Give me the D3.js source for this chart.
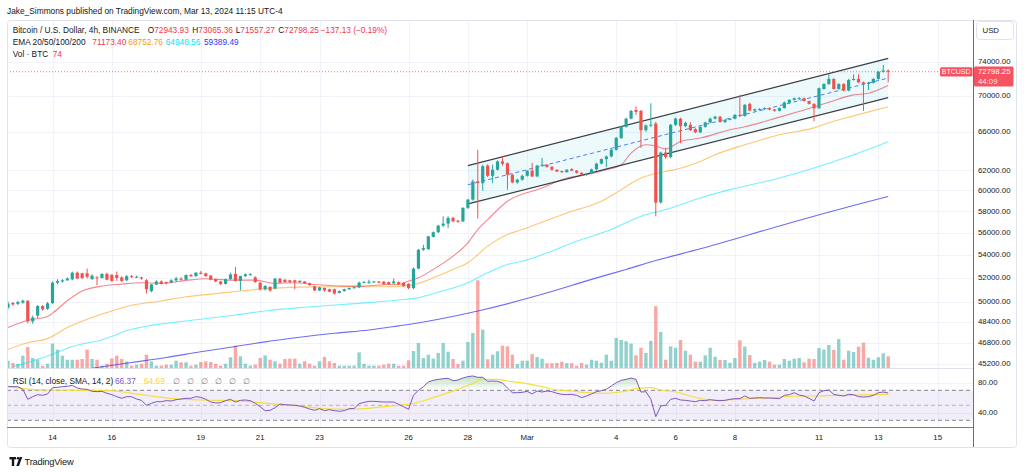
<!DOCTYPE html>
<html><head><meta charset="utf-8">
<script src="https://cdn.jsdelivr.net/npm/d3@7/dist/d3.min.js"></script>
<style>
html,body{margin:0;padding:0;background:#fff;}
svg{display:block;font-family:"Liberation Sans",Arial,sans-serif;}
</style></head><body>
<svg id="c" width="1024" height="472"></svg>
<script>
// ---------------- DATA ----------------
const open = [49540,49920,49850,49950,50100,48450,48900,49670,49450,49900,51600,51700,51800,51880,52450,52400,52400,51900,52050,52000,
52350,52250,52250,52050,51800,52150,52080,52050,51800,50900,51450,51700,51650,51600,51800,51950,51850,52250,52150,52450,
52400,52200,51900,51700,51500,51900,52350,51750,52150,52250,52050,51600,51050,51250,51100,51940,51850,51800,51800,51650,
51700,51550,51300,50950,51150,51050,51050,50750,50900,51050,51150,51200,51600,51620,51680,51680,51680,51650,51550,51650,
51600,51500,51150,52800,54450,54500,55600,56030,56640,56820,57350,57100,57030,58300,59090,60870,60700,62460,61430,62045,
62890,62700,61540,60770,61040,61430,61940,61370,62460,62550,62350,62040,61900,61800,62100,61950,61740,61540,61640,62080,
62660,63130,63400,64100,65330,66540,67430,68400,68300,66170,66700,66900,58830,63810,63340,66760,67430,66620,66760,66300,
65950,66540,67010,67430,67650,67060,67300,67430,67850,67740,69080,68330,68450,68480,68600,68450,68300,68600,69200,69530,
69600,69720,69400,69080,68600,70780,71350,71940,70780,71360,70600,71830,71940,71550,71360,71500,71950,72800,72943.93];
const high = [50050,50000,50100,50200,50150,48900,49750,49750,50000,51700,51900,51900,52050,52550,52550,52450,52800,52300,52150,52400,
52450,52350,52550,52150,52250,52250,52200,52100,51900,51500,51800,51800,51700,51900,52100,52050,52300,52350,52500,52600,
52450,52250,51950,51750,51950,52450,52950,52200,52400,52400,52150,51650,51400,51300,52000,52000,51900,51850,51850,51800,
51750,51600,51350,51250,51200,51100,51100,50950,51100,51200,51300,51700,51750,51850,51750,51750,51750,51700,51950,51700,
51650,51550,52900,54500,54900,55700,56100,56700,57500,57510,57450,57150,58350,59150,61050,64100,62550,62600,62550,63000,
63400,62800,61600,61150,61550,62000,62750,62550,63250,62600,62400,62100,61950,62100,62200,62000,61800,61700,62150,62750,
63200,63500,64200,65450,66650,67550,68400,68800,68400,66800,69150,67100,63900,64300,66850,67550,67550,67100,67050,66400,
66600,67100,67550,67750,67750,67400,67500,67950,70100,69050,69200,68550,68600,68700,68650,68500,68700,69350,69600,69800,
69850,69800,69450,69150,70950,71450,72500,72050,71450,71450,71950,72500,72500,71650,71600,72050,72900,73600,73065.36];
const low = [49400,49700,49750,49850,48300,48250,48700,49300,49350,49850,51450,51600,51750,51800,51900,51900,51950,51850,51400,51950,
51800,51700,51750,51650,51750,52000,52000,51850,50700,50800,51400,51450,51450,51550,51650,51800,51800,52100,52100,52300,
52100,51800,51650,51400,51450,51850,51700,50950,52100,52200,51600,50950,50950,50850,51050,51550,51600,51600,51050,51600,
51500,51350,50900,50900,50850,50800,50600,50700,50850,51000,51100,51150,51550,51500,51600,51550,51400,51400,51500,51400,
51250,51050,51050,52750,54350,54450,55550,55950,56500,56400,56950,56900,56950,58200,59000,57300,59950,61300,60710,61950,
62460,60060,60700,60650,60950,61350,61300,61300,62350,62250,61950,61800,61700,61750,61900,61650,61450,61450,61600,62000,
62600,62300,63300,64000,65250,66450,67350,67850,64300,66000,66500,57500,58700,63150,63200,66650,64800,66500,66100,65850,
65850,66450,66950,67350,67000,66950,67250,67350,67600,67650,68250,68250,68350,68400,68350,68200,68250,68550,69100,69450,
69550,69350,69000,67150,68500,70700,71250,70700,70700,70500,70500,71750,71450,68300,70670,71400,71850,72700,71557.27];
const close = [49870,49800,50000,50100,48450,48750,49670,49400,49890,51600,51740,51800,51950,52450,51950,52000,52100,52200,52000,52350,
51850,51750,52000,51750,52150,52080,52100,51950,51050,51450,51700,51500,51550,51800,51950,51850,52250,52150,52450,52350,
52150,51850,51700,51500,51900,52300,51750,52150,52300,52320,51650,51050,51320,50950,51940,51600,51650,51650,51650,51750,
51550,51400,50950,51200,50950,50850,50700,50900,51050,51150,51220,51600,51650,51680,51700,51620,51480,51480,51700,51480,
51320,51150,52800,54450,54600,55650,56030,56640,56820,57350,57030,56990,58300,59090,60870,60700,62400,61430,62045,62890,
62650,61540,60770,61040,61430,61940,61370,62460,62550,62330,62040,61860,61800,62040,61950,61740,61540,61640,62080,62660,
63130,63400,64100,65350,66560,67430,68290,68180,66170,66690,66780,58800,63810,63340,66760,67430,66620,66980,66170,65950,
66540,67010,67430,67650,67060,67300,67430,67850,67740,68970,68330,68480,68500,68600,68450,68300,68600,69240,69530,69710,
69720,69400,69080,68580,70870,71350,71950,70780,71360,70600,71830,71940,71550,71360,71500,71950,72800,72950,72798.25];
const volume = [46,32,27,78,133,63,52,15,27,154,116,78,52,52,52,57,116,57,52,15,
27,61,78,57,42,15,21,27,84,42,15,15,21,21,46,36,36,15,21,38,
42,38,27,15,27,68,141,74,27,15,21,63,80,52,42,27,57,59,59,27,
42,27,15,42,70,42,32,15,15,15,15,99,27,15,15,15,21,27,27,15,
15,49,107,158,63,84,59,95,158,103,57,25,46,164,221,554,242,55,84,106,
141,137,84,25,46,46,88,70,59,30,30,32,40,30,30,15,32,21,52,46,
33,84,46,190,177,169,154,80,128,95,171,390,228,52,137,128,177,109,84,40,
40,80,128,71,51,51,33,63,175,135,82,32,40,51,40,21,21,57,46,59,
63,36,59,57,126,116,145,114,183,52,109,101,135,160,65,52,68,93,74];
const lastChange = -137.13;
const lastChangePct = -0.19;

const ema20Bars = [0,4,8,9,12,15,19,23,27,31,36,40,45,50,54,58,62,68,72,77,79,81,83,86,90,93,95,97,101,108,113,117,121,124,126,129,131,133,136,140,146,149,156,161,166,171,174,178];
const ema20 = [47960,48530,48830,49100,50100,50900,51315,51480,51600,51540,51795,51935,51820,51820,51540,51600,51450,51315,51315,51450,51450,51740,52020,52730,53880,55070,56275,57200,58930,60220,61210,61540,62045,62550,63750,64620,64490,64170,64960,65330,66217,66540,67600,68400,69260,70100,70290,71173.40];
const ema50Bars = [0,4,8,12,16,20,25,31,36,42,47,52,59,66,71,77,81,83,86,90,93,97,101,104,113,120,124,128,130,133,136,140,143,149,156,163,166,171,178];
const ema50 = [46290,46790,47100,47960,48610,49140,49730,50080,50430,50685,50900,51100,51230,51265,51265,51265,51374,51540,52020,52730,53310,54770,55820,56275,57820,58930,60060,61210,61540,61870,62200,62890,63580,64620,65680,66430,66990,67740,68752.76];
const ema100Bars = [1,5,9,13,19,25,32,39,46,52,59,66,73,79,83,87,93,97,101,104,116,122,128,133,140,146,156,163,170,178];
const ema100 = [45000,45420,45920,46500,47020,47820,48295,48610,48950,49270,49540,49750,49950,50160,50355,50800,51600,52440,53160,53440,55370,56275,57510,58136,59250,60060,61210,62220,63400,64948.56];
const ema200Bars = [17,25,32,39,46,52,59,66,73,79,81,95,108,118,125,131,140,156,170,178];
const ema200 = [44880,45300,45670,46100,46500,46850,47200,47510,47770,48090,48200,49270,50630,51880,52730,53500,54530,56600,58400,59389.49];

const rsi = [74.8,74.8,74.8,71.3,58.0,61.5,64.2,63.3,65.1,73.5,
74.0,74.8,75.3,76.6,73.1,71.7,71.3,68.6,68.2,68.6,
66.0,64.2,61.5,59.3,61.5,61.5,58.4,56.6,50.0,52.6,
54.8,54.8,56.2,55.7,57.5,58.4,59.3,59.3,61.5,60.6,
58.0,54.4,53.1,53.5,56.2,58.0,54.4,56.6,57.1,56.2,
52.6,48.2,42.8,43.3,46.8,51.7,50.8,50.4,50.0,49.1,
47.3,45.1,43.3,45.5,42.8,44.2,42.8,42.0,42.8,45.5,
45.9,52.2,53.9,55.3,55.3,54.8,54.4,54.4,54.4,51.3,
48.2,44.6,63.3,70.0,74.8,81.1,83.3,84.6,85.5,86.0,
82.8,83.7,86.4,88.2,89.1,87.3,
87.3,82.0,82.4,82.0,79.7,73.1,66.8,66.8,67.3,68.6,
65.1,69.1,67.7,69.1,68.2,66.0,64.6,64.2,64.6,63.3,
60.2,62.4,65.1,68.2,69.5,71.3,75.7,80.2,83.3,84.6,
86.4,84.6,67.7,68.2,58.0,34.8,49.1,50.0,58.0,59.3,
57.1,56.6,55.7,54.8,56.6,56.2,57.5,56.6,56.2,56.6,
58.0,58.8,58.8,62.4,59.3,59.7,60.2,59.7,59.7,59.3,
58.8,63.3,64.2,66.8,63.7,62.4,59.3,55.7,66.8,69.5,
70.4,64.6,63.3,62.4,64.6,64.2,61.5,61.1,61.5,63.3,
66.8,67.7,66.37];
const rsiMaBars = [0,3,8,15,21,25,29,33,39,46,51,56,59,63,68,73,76,79,81,85,88,91,94,96,99,101,105,108,111,114,117,120,124,127,130,132,135,138,141,144,147,151,154,157,161,164,168,171,174,178];
const rsiMa = [75.7,72.2,70.4,70.0,69.5,66.0,62.4,59.3,57.1,56.2,53.5,50.4,49.1,46.0,44.6,46.0,48.2,50.0,51.3,58.0,64.6,71.3,79.3,84.6,84.6,82.4,78.8,74.8,70.4,69.1,66.8,66.0,67.7,72.2,73.5,70.4,67.7,62.4,58.0,56.6,58.0,59.3,59.7,61.5,62.4,62.4,63.3,63.3,64.2,64.69];

const timeLabels = ['14','16','19','21','23','26','28','Mar','4','6','8','11','13','15'];
const timeLabelBars = [9,21,39,51,63,81,93,105,123,135,147,164,176,188];
const priceTicks = [74000,70000,66000,62000,60000,58000,56000,54000,52000,50000,48400,46800,45200];
const rsiTicks = [80,40];
const rsiLevels = [70,50,30];

const channelBars = [93,178];
const channelUpper = [62460,74411];
const channelLower = [58675,69780];

// ---------------- LAYOUT ----------------
const L=7, R=973, T=20, MB=368, RB=427.5, AB=447, FR=1016;
const UP='#26A69A', DN='#EF5350';
const svg = d3.select('#c');
svg.append('rect').attr('width',1024).attr('height',472).attr('fill','#fff');

const x = d3.scaleLinear().domain([0,178]).range([8,888.2]);
const y = d3.scaleLog().domain([44895,79211]).range([MB,T]);
const yv = d3.scaleLinear().domain([0,d3.max(volume)]).range([MB,MB-87.7]);
const yr = d3.scaleLinear().domain([30,70]).range([420.3,390.3]);

const defs = svg.append('defs');
defs.append('clipPath').attr('id','cm').append('rect').attr('x',L).attr('y',T).attr('width',R-L).attr('height',MB-T);
defs.append('clipPath').attr('id','cr').append('rect').attr('x',L).attr('y',MB).attr('width',R-L).attr('height',RB-MB);
const gr = defs.append('linearGradient').attr('id','gg').attr('gradientUnits','userSpaceOnUse')
  .attr('x1',0).attr('x2',0).attr('y1',yr(100)).attr('y2',yr(70));
gr.append('stop').attr('offset',0).attr('stop-color','#4CAF50').attr('stop-opacity',0.55);
gr.append('stop').attr('offset',1).attr('stop-color','#4CAF50').attr('stop-opacity',0.0);

// grid
const grid = svg.append('g').attr('stroke','#F0F3FA').attr('stroke-width',1);
timeLabelBars.forEach(b=>{ const xx=Math.round(x(b))+0.5; if(xx<R) grid.append('line').attr('x1',xx).attr('x2',xx).attr('y1',T).attr('y2',RB); });
priceTicks.forEach(p=>{ const yy=Math.round(y(p))+0.5; grid.append('line').attr('x1',L).attr('x2',R).attr('y1',yy).attr('y2',yy); });
rsiTicks.forEach(v=>{ const yy=Math.round(yr(v))+0.5; grid.append('line').attr('x1',L).attr('x2',R).attr('y1',yy).attr('y2',yy); });

// main pane
const gm = svg.append('g').attr('clip-path','url(#cm)');
// volume
gm.append('g').selectAll('rect').data(volume).join('rect')
  .attr('x',(d,i)=>x(i)-1.7).attr('width',3.4)
  .attr('y',d=>yv(d)).attr('height',d=>MB-yv(d))
  .attr('fill',(d,i)=>close[i]>=open[i]?'rgba(38,166,154,0.5)':'rgba(239,83,80,0.5)');

// channel
const cu = channelBars.map((b,k)=>[x(b),y(channelUpper[k])]);
const cl = channelBars.map((b,k)=>[x(b),y(channelLower[k])]);
gm.append('path').attr('d','M'+cu[0]+'L'+cu[1]+'L'+cl[1]+'L'+cl[0]+'Z').attr('fill','rgba(0,188,212,0.07)');
gm.append('line').attr('x1',(cu[0][0]+cl[0][0])/2).attr('y1',(cu[0][1]+cl[0][1])/2)
  .attr('x2',(cu[1][0]+cl[1][0])/2).attr('y2',(cu[1][1]+cl[1][1])/2)
  .attr('stroke','#4F7BF7').attr('stroke-width',1).attr('stroke-dasharray','4,3');

// EMAs
const emaLine = d3.line().x(d=>x(d[0])).y(d=>y(d[1])).curve(d3.curveMonotoneX);
[[ema200Bars,ema200,'rgba(60,60,240,0.75)'],[ema100Bars,ema100,'rgba(0,229,255,0.55)'],
 [ema50Bars,ema50,'rgba(255,152,0,0.55)'],[ema20Bars,ema20,'rgba(242,54,69,0.6)']].forEach(([b,v,c])=>{
  gm.append('path').attr('d',emaLine(b.map((bb,k)=>[bb,v[k]]))).attr('fill','none').attr('stroke',c).attr('stroke-width',1.1);
});

// channel borders
[cu,cl].forEach(pts=>gm.append('line').attr('x1',pts[0][0]).attr('y1',pts[0][1]).attr('x2',pts[1][0]).attr('y2',pts[1][1])
  .attr('stroke','#3A3D45').attr('stroke-width',1.2));

// candles
const gc = gm.append('g');
close.forEach((c,i)=>{
  const o=open[i], col=c>=o?UP:DN, xx=x(i);
  gc.append('line').attr('x1',xx).attr('x2',xx).attr('y1',y(high[i])).attr('y2',y(low[i])).attr('stroke',col).attr('stroke-width',1);
  const y1=y(Math.max(o,c)), y2=y(Math.min(o,c));
  gc.append('rect').attr('x',xx-1.6).attr('width',3.2).attr('y',y1).attr('height',Math.max(1,y2-y1)).attr('fill',col);
});

// current price line
const yc = y(close[178]);
svg.append('line').attr('x1',L).attr('x2',R).attr('y1',yc).attr('y2',yc).attr('stroke','#F23645').attr('stroke-width',1).attr('stroke-dasharray','1,2').attr('opacity',0.7);

// RSI pane
const gR = svg.append('g').attr('clip-path','url(#cr)');
gR.append('rect').attr('x',L).attr('width',R-L).attr('y',yr(70)).attr('height',yr(30)-yr(70)).attr('fill','rgba(126,87,194,0.1)');
rsiLevels.forEach(v=>gR.append('line').attr('x1',L).attr('x2',R).attr('y1',yr(v)).attr('y2',yr(v))
  .attr('stroke','#787B86').attr('stroke-dasharray','4,3').attr('opacity',v===50?0.5:0.9));
gR.append('path').attr('d',d3.area().x((d,i)=>x(i)).y0(yr(70)).y1(d=>yr(Math.max(d,70)))(rsi)).attr('fill','url(#gg)');
gR.append('path').attr('d',d3.line().x(d=>x(d[0])).y(d=>yr(d[1])).curve(d3.curveMonotoneX)(rsiMaBars.map((b,k)=>[b,rsiMa[k]])))
  .attr('fill','none').attr('stroke','#F5DE3E').attr('stroke-width',1.2);
gR.append('path').attr('d',d3.line().x((d,i)=>x(i)).y(d=>yr(d))(rsi)).attr('fill','none').attr('stroke','#7E57C2').attr('stroke-width',1);

// frames
svg.append('rect').attr('x',L+0.5).attr('y',T+0.5).attr('width',FR-L).attr('height',AB-T).attr('rx',3).attr('fill','none').attr('stroke','#E0E3EB');
svg.append('line').attr('x1',L).attr('x2',R).attr('y1',MB+0.5).attr('y2',MB+0.5).attr('stroke','#E0E3EB');
svg.append('line').attr('x1',L).attr('x2',R).attr('y1',RB).attr('y2',RB).attr('stroke','#787B86');
svg.append('line').attr('x1',R+0.5).attr('x2',R+0.5).attr('y1',T).attr('y2',AB).attr('stroke','#6A6D78');

// axis labels
const FS = 7.8;
const ax = svg.append('g').attr('font-size',FS).attr('fill','#131722').attr('dominant-baseline','central');
priceTicks.forEach(p=>ax.append('text').attr('x',978).attr('y',y(p)).text(p.toFixed(2)));
rsiTicks.forEach(v=>ax.append('text').attr('x',978).attr('y',yr(v)).text(v.toFixed(2)));
timeLabels.forEach((t,k)=>ax.append('text').attr('x',x(timeLabelBars[k])).attr('y',437.5).attr('text-anchor','middle').text(t));

// USD box
svg.append('rect').attr('x',976.5).attr('y',21.5).attr('width',37).attr('height',18).attr('rx',3).attr('fill','#fff').attr('stroke','#E0E3EB');
svg.append('text').attr('x',982.5).attr('y',30.7).attr('font-size',FS).attr('fill','#131722').attr('dominant-baseline','central').text('USD');

// price labels
svg.append('rect').attr('x',940).attr('y',yc-4.6).attr('width',32.5).attr('height',9.4).attr('rx',1.5).attr('fill','#F7525F');
svg.append('text').attr('x',956.2).attr('y',yc+0.2).attr('text-anchor','middle').attr('font-size',7).attr('fill','#fff').attr('dominant-baseline','central').text('BTCUSD');
svg.append('rect').attr('x',974).attr('y',yc-5.2).attr('width',39.5).attr('height',20).attr('rx',1.5).attr('fill','#F7525F');
svg.append('text').attr('x',978).attr('y',yc).attr('font-size',FS).attr('fill','#fff').attr('dominant-baseline','central').text(close[178].toFixed(2));
svg.append('text').attr('x',978).attr('y',yc+9.3).attr('font-size',FS).attr('fill','#fff').attr('fill-opacity',0.9).attr('dominant-baseline','central').text('44:09');

// header
const HF = 8.3, DARK='#131722', RED='#F23645';
function txt(xx,yy,s,c,fs){ svg.append('text').attr('x',xx).attr('y',yy).attr('font-size',fs||HF).attr('fill',c||DARK).attr('dominant-baseline','central').text(s); }
function pair(xx,yy,a,b,c){ const t=svg.append('text').attr('x',xx).attr('y',yy).attr('font-size',HF).attr('dominant-baseline','central');
  t.append('tspan').attr('fill',DARK).text(a); t.append('tspan').attr('fill',c).text(b); }
txt(7,10.8,'Jake_Simmons published on TradingView.com, Mar 13, 2024 11:15 UTC-4',DARK,8.35);
txt(12.7,30,'Bitcoin / U.S. Dollar, 4h, BINANCE');
pair(147.7,30,'O',open[178].toFixed(2),RED);
pair(192.3,30,'H',high[178].toFixed(2),RED);
pair(235.7,30,'L',low[178].toFixed(2),RED);
pair(278.3,30,'C',close[178].toFixed(2),RED);
txt(320.7,30,'\u2212'+Math.abs(lastChange).toFixed(2)+' (\u2212'+Math.abs(lastChangePct).toFixed(2)+'%)',RED);
txt(12.7,42.3,'EMA 20/50/100/200');
txt(92.3,42.3,ema20[ema20.length-1].toFixed(2),'#F23645');
txt(128.3,42.3,ema50[ema50.length-1].toFixed(2),'#FF9800');
txt(165.7,42.3,ema100[ema100.length-1].toFixed(2),'#00E5FF');
txt(204,42.3,ema200[ema200.length-1].toFixed(2),'#3333FF');
txt(12.7,53.6,'Vol \u00B7 BTC');
txt(52.7,53.6,String(volume[178]),RED);
txt(12.7,380.5,'RSI (14, close, SMA, 14, 2)');
txt(115,380.5,rsi[178].toFixed(2),'#7E57C2');
txt(144,380.5,rsiMa[rsiMa.length-1].toFixed(2),'#F5D63E');
[172.7,186.7,200.7,214.7,228.7,242.7].forEach(xx=>txt(xx,380.5,'\u2205','#787B86'));

// logo
const lg = svg.append('g').attr('fill',DARK);
lg.append('rect').attr('x',9.5).attr('y',457).attr('width',6.5).attr('height',2.4);
lg.append('rect').attr('x',11.8).attr('y',457).attr('width',2.4).attr('height',9);
lg.append('circle').attr('cx',18).attr('cy',458.3).attr('r',1.3);
lg.append('path').attr('d','M16.3,466 L19.6,457 L22.3,457 L19,466 Z');
svg.append('text').attr('x',24.5).attr('y',461.7).attr('font-size',9.3).attr('font-weight',500).attr('letter-spacing',-0.2).attr('fill',DARK).attr('dominant-baseline','central').text('TradingView');
</script>
</body></html>
